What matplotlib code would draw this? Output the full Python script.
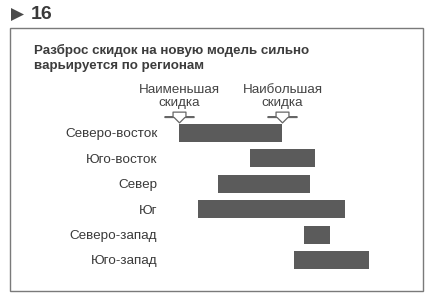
import matplotlib
matplotlib.use('Agg')
import matplotlib.pyplot as plt
from matplotlib.patches import Rectangle, Polygon
from matplotlib.path import Path
import matplotlib.transforms as mtransforms

plt.rcParams['font.family'] = ['Liberation Sans', 'DejaVu Sans']

# данные: границы скидок по регионам (условные единицы)
regions = ['Северо-восток', 'Юго-восток', 'Север', 'Юг', 'Северо-запад', 'Юго-запад']
low = [8, 37.5, 24, 16, 60, 56]
high = [51, 64.5, 62.5, 77, 71, 87]

title = 'Разброс скидок на новую модель сильно\nварьируется по регионам'
fig_number = '16'
low_label = 'Наименьшая\nскидка'
high_label = 'Наибольшая\nскидка'

W, H = 433, 304
fig = plt.figure(figsize=(W / 100, H / 100), dpi=100)
fig.patch.set_facecolor('white')

def fx(px):
    return px / W

def fy(py):
    return 1 - py / H

# рамка
fig.patches.append(Rectangle((fx(10), fy(291)), fx(423) - fx(10), fy(28) - fy(291),
                             transform=fig.transFigure, fill=False,
                             edgecolor='#7a7a7a', linewidth=1.0))

# номер рисунка
fig.patches.append(Polygon([(fx(11), fy(8)), (fx(11), fy(21)), (fx(24), fy(14.5))],
                           closed=True, transform=fig.transFigure,
                           facecolor='#4a4a4a', edgecolor='none'))
fig.text(fx(31), fy(14.5), fig_number, fontsize=14, fontweight='bold',
         color='#3a3a3a', ha='left', va='center')

# заголовок
fig.text(fx(34), fy(58), title, fontsize=9.6, fontweight='bold', color='#3c3c3c',
         ha='left', va='center', linespacing=1.25)

# область графика
ax = fig.add_axes([fx(160), fy(275.2), fx(400) - fx(160), 157.5 / H])
ypos = list(range(len(regions)))
widths = [h - l for l, h in zip(low, high)]
ax.barh(ypos, widths, left=low, height=0.71, color='#5b5b5b', edgecolor='none')
ax.set_xlim(0, 100)
ax.set_ylim(5.6, -0.6)
ax.set_yticks(ypos)
ax.set_yticklabels(regions, fontsize=9.7, color='#3a3a3a')
ax.tick_params(axis='y', length=0, pad=2)
ax.set_xticks([])
for s in ax.spines.values():
    s.set_visible(False)
ax.patch.set_alpha(0)

# подписи и стрелки
blend = mtransforms.blended_transform_factory(ax.transData, fig.transFigure)
arrow = Path([(-0.42, 0.35), (0.42, 0.35), (0.42, 0.05), (0.95, 0.05), (0.95, 0.0),
              (0.35, 0.0), (0.0, -0.35), (-0.35, 0.0), (-0.95, 0.0), (-0.95, 0.05),
              (-0.42, 0.05), (-0.42, 0.35)], closed=True)
for xv, lab in [(low[0], low_label), (high[0], high_label)]:
    ax.text(xv, fy(96.5), lab, transform=blend, fontsize=9.7, color='#444444',
            ha='center', va='center', linespacing=1.1)
    ax.plot([xv], [fy(116.5)], transform=blend, marker=arrow, markersize=21,
            markerfacecolor='white', markeredgecolor='#666666', markeredgewidth=0.9,
            linestyle='none', clip_on=False)

fig.savefig('out.png', dpi=100, facecolor='white')
